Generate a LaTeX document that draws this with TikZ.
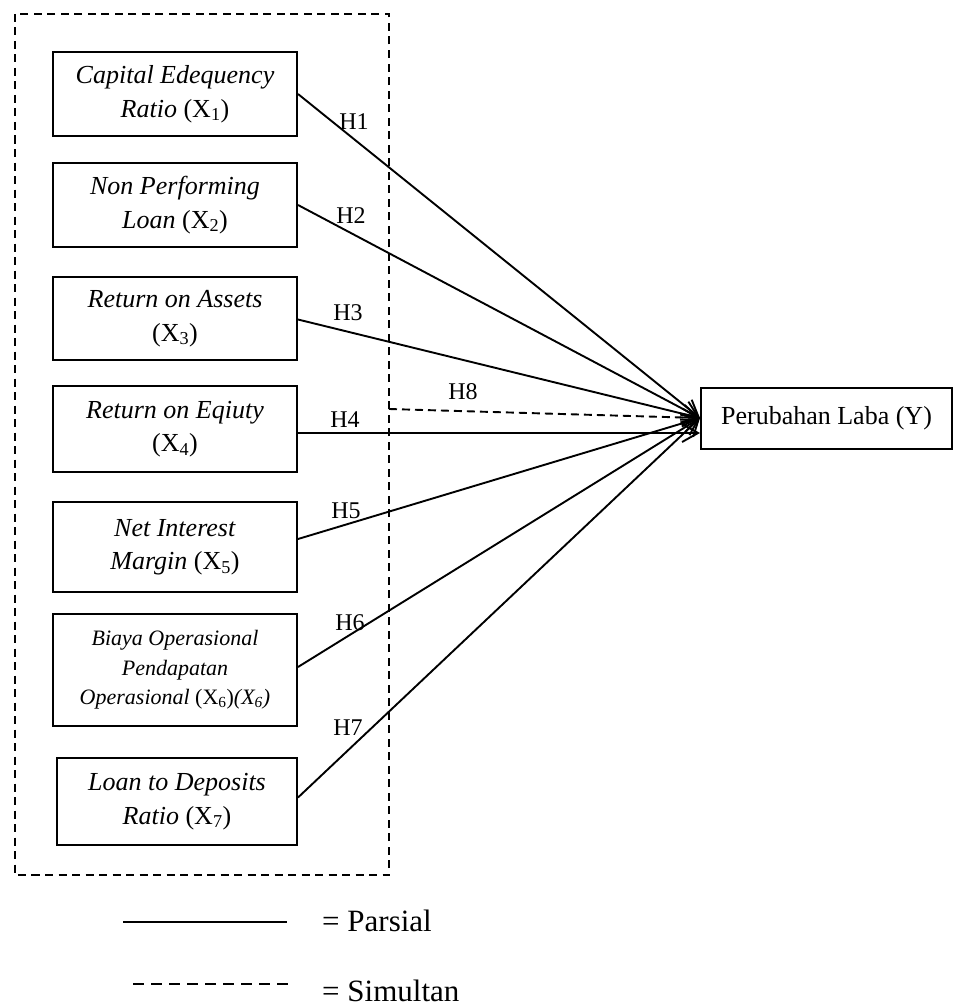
\documentclass[tikz,border=0pt]{standalone}
\usepackage{fontspec}
\setmainfont{Liberation Serif}
\usetikzlibrary{arrows.meta}
\tikzset{
  varbox/.style={draw, line width=2pt, rectangle, align=center, inner sep=0pt,
    minimum width=244pt, font=\fontsize{26}{33.5}\selectfont},
  conn/.style={line width=1.9pt, -{Straight Barb[length=16pt,width=18pt,line width=1.9pt]}},
  simconn/.style={conn, dash pattern=on 8pt off 5pt},
  hlabel/.style={font=\fontsize{24}{26}\selectfont, inner sep=0pt},
  legtext/.style={font=\fontsize{31}{33}\selectfont, inner sep=0pt, anchor=base west},
  outerdash/.style={line width=2pt, dash pattern=on 8pt off 5.5pt}
}
\begin{document}
\begin{tikzpicture}[x=1pt,y=-1pt]
\useasboundingbox (0,0) rectangle (953,1006);
% outer dashed frame
\draw[outerdash] (15,14) rectangle (389,875);
% variable boxes
\node[varbox, minimum height=84pt] (b1) at (175,94) {\textit{Capital Edequency}\\\textit{Ratio} (X\textsubscript{1})};
\node[varbox, minimum height=84pt] (b2) at (175,205) {\textit{Non Performing}\\\textit{Loan} (X\textsubscript{2})};
\node[varbox, minimum height=83pt] (b3) at (175,318.5) {\textit{Return on Assets}\\(X\textsubscript{3})};
\node[varbox, minimum height=86pt] (b4) at (175,429) {\textit{Return on Eqiuty}\\(X\textsubscript{4})};
\node[varbox, minimum height=90pt] (b5) at (175,547) {\textit{Net Interest}\\\textit{Margin} (X\textsubscript{5})};
\node[varbox, minimum height=112pt, font=\fontsize{22}{29.5}\selectfont] (b6) at (175,670) {\textit{Biaya Operasional}\\\textit{Pendapatan}\\\textit{Operasional} (X\textsubscript{6})\textit{(X\textsubscript{6})}};
\node[varbox, minimum height=87pt, minimum width=240pt] (b7) at (177,801.5) {\textit{Loan to Deposits}\\\textit{Ratio} (X\textsubscript{7})};
% dependent variable
\node[draw, line width=2pt, minimum width=251pt, minimum height=61pt, inner sep=0pt,
  font=\fontsize{26}{28}\selectfont] (yv) at (826.5,418) {Perubahan Laba (Y)};
% partial connectors
\draw[conn] (b1.east) -- (yv.west);
\draw[conn] (b2.east) -- (yv.west);
\draw[conn] ([yshift=-1pt]b3.east) -- (yv.west);
\draw[conn] ([yshift=-4pt]b4.east) -- ([yshift=-4pt]b4.east -| yv.west);
\draw[conn] ([yshift=8pt]b5.east) -- (yv.west);
\draw[conn] ([yshift=3pt]b6.east) -- (yv.west);
\draw[conn] ([yshift=4pt]b7.east) -- (yv.west);
% simultaneous connector
\coordinate (h8s) at (389,409);
\draw[simconn] (h8s) -- (yv.west);
% hypothesis labels
\node[hlabel] (l1) at (354,122) {H1};
\node[hlabel] (l2) at (351,216) {H2};
\node[hlabel] (l3) at (348,313) {H3};
\node[hlabel] (l4) at (345,420) {H4};
\node[hlabel] (l5) at (346,511) {H5};
\node[hlabel] (l6) at (350,623) {H6};
\node[hlabel] (l7) at (348,728) {H7};
\node[hlabel] (l8) at (463,392) {H8};
% legend
\coordinate (ps) at (123,922);
\coordinate (pe) at (287,922);
\draw[line width=1.9pt] (ps) -- (pe);
\node[legtext] (lp) at (322,931) {= Parsial};
\coordinate (ss) at (133,984);
\coordinate (se) at (293,984);
\draw[line width=1.9pt, dash pattern=on 11pt off 7pt] (ss) -- (se);
\node[legtext] (ls) at (322,1001) {= Simultan};
\end{tikzpicture}
\end{document}
